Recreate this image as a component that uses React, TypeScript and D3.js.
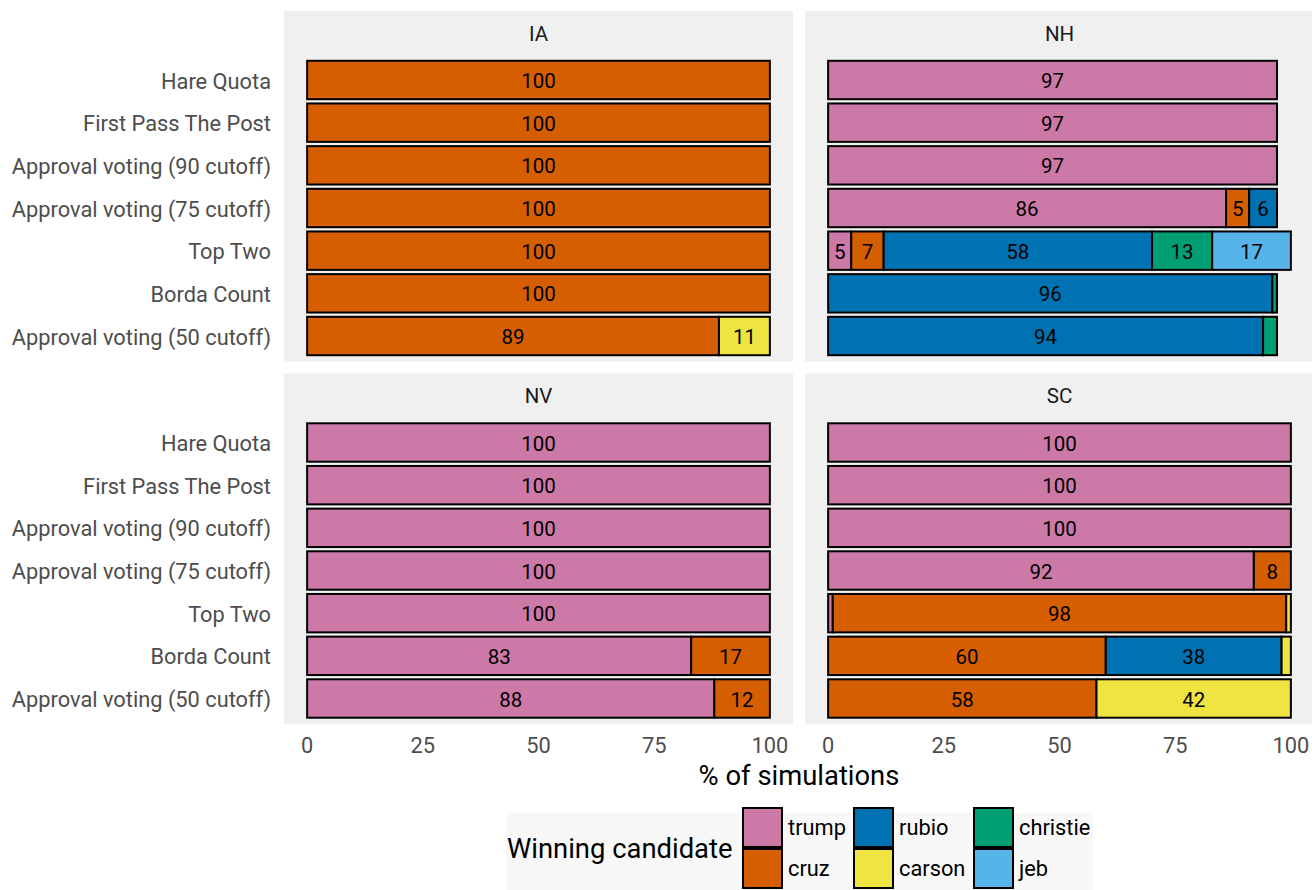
import React from "react";
import * as d3 from "d3";

// Voting methods, top to bottom
const methods = [
  "Hare Quota",
  "First Pass The Post",
  "Approval voting (90 cutoff)",
  "Approval voting (75 cutoff)",
  "Top Two",
  "Borda Count",
  "Approval voting (50 cutoff)",
];

// Candidates in stacking / legend order
const candidates = ["trump", "cruz", "rubio", "carson", "christie", "jeb"];
const candidateColors = ["#CC79A7", "#D55E00", "#0072B2", "#F0E442", "#009E73", "#56B4E9"];

const states = ["IA", "NH", "NV", "SC"];

// % of simulations won, one row per method, columns follow `candidates`
const iaShares = [
  [0, 100, 0, 0, 0, 0],
  [0, 100, 0, 0, 0, 0],
  [0, 100, 0, 0, 0, 0],
  [0, 100, 0, 0, 0, 0],
  [0, 100, 0, 0, 0, 0],
  [0, 100, 0, 0, 0, 0],
  [0, 89, 0, 11, 0, 0],
];
const nhShares = [
  [97, 0, 0, 0, 0, 0],
  [97, 0, 0, 0, 0, 0],
  [97, 0, 0, 0, 0, 0],
  [86, 5, 6, 0, 0, 0],
  [5, 7, 58, 0, 13, 17],
  [0, 0, 96, 0, 1, 0],
  [0, 0, 94, 0, 3, 0],
];
const nvShares = [
  [100, 0, 0, 0, 0, 0],
  [100, 0, 0, 0, 0, 0],
  [100, 0, 0, 0, 0, 0],
  [100, 0, 0, 0, 0, 0],
  [100, 0, 0, 0, 0, 0],
  [83, 17, 0, 0, 0, 0],
  [88, 12, 0, 0, 0, 0],
];
const scShares = [
  [100, 0, 0, 0, 0, 0],
  [100, 0, 0, 0, 0, 0],
  [100, 0, 0, 0, 0, 0],
  [92, 8, 0, 0, 0, 0],
  [1, 98, 0, 1, 0, 0],
  [0, 60, 38, 2, 0, 0],
  [0, 58, 0, 42, 0, 0],
];
const stateShares = [iaShares, nhShares, nvShares, scShares];

const xTicks = [0, 25, 50, 75, 100];

const W = 1312;
const H = 890;
const FONT = "Roboto, 'Noto Sans', sans-serif";
const SMALL = 21.8;
const LARGE = 27.4;

// facet geometry
const colX = [284, 805];
const panelW = 509;
const rowY = [11, 373.5];
const stripH = 43.4;
const plotH = 307.2;

const color = d3.scaleOrdinal<string, string>().domain(candidates).range(candidateColors);

function Panel({ state, shares, col, row }: { state: string; shares: number[][]; col: number; row: number }) {
  const x0 = colX[col];
  const y0 = rowY[row];
  const plotTop = y0 + stripH;
  const x = d3.scaleLinear().domain([-5, 105]).range([x0, x0 + panelW]);
  const y = d3.scaleBand<string>().domain(methods).range([plotTop, plotTop + plotH]).paddingInner(0.1).paddingOuter(0.15);

  const rows = methods.map((m, i) => {
    const obj: Record<string, any> = { method: m };
    candidates.forEach((c, j) => (obj[c] = shares[i][j]));
    return obj;
  });
  const stacked = d3.stack<any>().keys(candidates)(rows);

  return (
    <g>
      <rect x={x0} y={y0} width={panelW} height={stripH + plotH} fill="#F0F0F0" />
      <text x={x0 + panelW / 2} y={y0 + stripH / 2 + 1} textAnchor="middle" dominantBaseline="central" fontSize={20.5} fill="#1A1A1A">
        {state}
      </text>
      {stacked.map((layer) =>
        layer.map((seg, i) => {
          const v = seg[1] - seg[0];
          if (v <= 0) return null;
          return (
            <rect
              key={layer.key + i}
              x={x(seg[0])}
              y={y(methods[i])}
              width={x(seg[1]) - x(seg[0])}
              height={y.bandwidth()}
              fill={color(layer.key)}
              stroke="#000"
              strokeWidth={2}
            />
          );
        })
      )}
      {stacked.map((layer) =>
        layer.map((seg, i) => {
          const v = seg[1] - seg[0];
          if (v < 5) return null;
          return (
            <text
              key={"t" + layer.key + i}
              x={x((seg[0] + seg[1]) / 2)}
              y={(y(methods[i]) as number) + y.bandwidth() / 2 + 1}
              textAnchor="middle"
              dominantBaseline="central"
              fontSize={20.5}
              fill="#000"
            >
              {v}
            </text>
          );
        })
      )}
      {col === 0 &&
        methods.map((m) => (
          <text
            key={m}
            x={x0 - 13}
            y={(y(m) as number) + y.bandwidth() / 2 + 1}
            textAnchor="end"
            dominantBaseline="central"
            fontSize={SMALL}
            fill="#4D4D4D"
          >
            {m}
          </text>
        ))}
      {row === 1 &&
        xTicks.map((t) => (
          <text key={t} x={x(t)} y={plotTop + plotH + 21} textAnchor="middle" dominantBaseline="central" fontSize={SMALL} fill="#4D4D4D">
            {t}
          </text>
        ))}
    </g>
  );
}

export default function App() {
  const legendCols = [742, 853, 973];
  const keyW = 41;
  const keyH = 41;
  const keyRows = [807, 848];
  return (
    <svg width={W} height={H} style={{ position: "absolute", left: 0, top: 0, fontFamily: FONT }}>
      <rect width={W} height={H} fill="#FFFFFF" />
      {states.map((s, i) => (
        <Panel key={s} state={s} shares={stateShares[i]} col={i % 2} row={Math.floor(i / 2)} />
      ))}
      <text x={(colX[0] + colX[1] + panelW) / 2} y={776} textAnchor="middle" dominantBaseline="central" fontSize={LARGE} fill="#000">
        % of simulations
      </text>
      <g>
        <rect x={506} y={813} width={587} height={80} fill="#F8F8F8" />
        <text x={507} y={849} dominantBaseline="central" fontSize={LARGE} fill="#000">
          Winning candidate
        </text>
        {candidates.map((c, i) => {
          const cx = legendCols[Math.floor(i / 2)];
          const cy = keyRows[i % 2];
          return (
            <g key={c}>
              <rect x={cx + 1} y={cy + 1} width={keyW - 2} height={keyH - 2} fill={color(c)} stroke="#000" strokeWidth={2} />
              <text x={cx + keyW + 5} y={cy + keyH / 2} dominantBaseline="central" fontSize={SMALL} fill="#000">
                {c}
              </text>
            </g>
          );
        })}
      </g>
    </svg>
  );
}
